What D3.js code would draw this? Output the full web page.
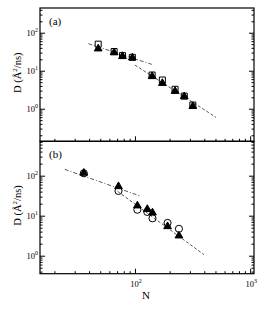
<!DOCTYPE html>
<html><head><meta charset="utf-8">
<script src="https://cdn.jsdelivr.net/npm/d3@7"></script>
<style>body{margin:0;background:#fff}svg{display:block}text{font-family:"Liberation Serif","DejaVu Serif",serif;fill:#000}</style>
</head><body><svg id="c" width="268" height="315"></svg>
<script>
// Panel (a)
const nA = [48, 66, 78, 95, 141, 173, 223, 268, 318];
const dSquareA = [50, 32, 25, 22.5, 7.7, 5.7, 3.25, 2.15, 1.25];
const dTriA = [38, 30, 24, 22, 7.1, 4.7, 2.9, 2.1, 1.16];
const fitA1N = [39.5, 140], fitA1D = [51.4, 14.7];
const fitA2N = [100, 506], fitA2D = [14.1, 0.594];
// Panel (b)
const nB = [36, 72, 105, 128, 142, 192, 241];
const dCircleB = [115, 41.5, 14.1, 12.4, 8.6, 6.6, 4.7];
const dTriB = [117, 54, 17.8, 14.5, 11.9, 5.4, 3.16];
const fitB1N = [24.6, 113], fitB1D = [144, 30.5];
const fitB2N = [70.7, 398], fitB2D = [40.7, 1.06];
// ticks
const xMajor = [100, 1000];
const xMinor = [20,30,40,50,60,70,80,90,200,300,400,500,600,700,800,900];
const yMajor = [1, 10, 100];
const yMinorA = [0.2,0.3,0.4,0.5,0.6,0.7,0.8,0.9,2,3,4,5,6,7,8,9,20,30,40,50,60,70,80,90,200,300,400];
const yMinorB = [0.4,0.5,0.6,0.7,0.8,0.9,2,3,4,5,6,7,8,9,20,30,40,50,60,70,80,90,200,300,400,500,600,700];

const svg = d3.select("#c");
const L = 40, R = 254;
const x = d3.scaleLog().domain([15, 1080]).range([L, R]);
const ya = d3.scaleLog().domain([0.139, 447]).range([141.3, 8]);
const yb = d3.scaleLog().domain([0.355, 724]).range([273.7, 141.3]);

function sup(sel, base, exp){
  sel.append("tspan").text(base);
  sel.append("tspan").attr("dy", -4).attr("font-size", 6).text(exp);
}

function panel(y, top, bottom, yMinor, label, showXLabels){
  const g = svg.append("g");
  // frame
  g.append("rect").attr("x", L).attr("y", top).attr("width", R-L).attr("height", bottom-top)
    .attr("fill","none").attr("stroke","#000").attr("stroke-width",1.2);
  // y axes left/right
  const mk = (ax, vals, size, tx) => {
    const a = g.append("g").attr("transform", tx)
      .call(ax.tickValues(vals).tickSizeInner(size).tickSizeOuter(0).tickFormat(""));
    a.select(".domain").remove();
    a.selectAll("line").attr("stroke","#000").attr("stroke-width",1);
  };
  mk(d3.axisLeft(y), yMajor, -5, `translate(${L},0)`);
  mk(d3.axisLeft(y), yMinor, -2.5, `translate(${L},0)`);
  mk(d3.axisRight(y), yMajor, -5, `translate(${R},0)`);
  mk(d3.axisRight(y), yMinor, -2.5, `translate(${R},0)`);
  mk(d3.axisBottom(x), xMajor.filter(v=>v<1080), -5, `translate(0,${bottom})`);
  mk(d3.axisBottom(x), xMinor, -2.5, `translate(0,${bottom})`);
  // y labels
  yMajor.forEach(v => {
    const t = g.append("text").attr("x", L-2).attr("y", y(v)+3).attr("text-anchor","end").attr("font-size",8.5);
    sup(t, "10", String(Math.round(Math.log10(v))));
  });
  if (showXLabels){
    xMajor.forEach(v => {
      const t = g.append("text").attr("x", x(v)+1).attr("y", bottom+13).attr("text-anchor","middle").attr("font-size",8.5);
      sup(t, "10", String(Math.round(Math.log10(v))));
    });
  }
  g.append("text").attr("x", 49).attr("y", top+17).attr("font-size", 11).text(label);
  // y title
  const cy = (top+bottom)/2 - 2;
  const yt = g.append("text").attr("transform", `translate(21,${cy}) rotate(-90)`)
    .attr("text-anchor","middle").attr("font-size",10.5);
  yt.append("tspan").text("D (Å");
  yt.append("tspan").attr("dy",-4).attr("font-size",7).text("2");
  yt.append("tspan").attr("dy",4).text("/ns)");
  return g;
}

const gA = panel(ya, 8, 141.3, yMinorA, "(a)", false);
const gB = panel(yb, 141.3, 273.7, yMinorB, "(b)", true);

function fit(g, y, ns, ds, dash){
  const line = d3.line().x(d=>x(d[0])).y(d=>y(d[1]));
  g.append("path").attr("d", line(ns.map((n,i)=>[n, ds[i]])))
    .attr("fill","none").attr("stroke","#444").attr("stroke-width",0.9).attr("stroke-dasharray", dash);
}
fit(gA, ya, fitA1N, fitA1D, "4,2,1,2");
fit(gA, ya, fitA2N, fitA2D, "3,2");
fit(gB, yb, fitB1N, fitB1D, "4,2,1,2");
fit(gB, yb, fitB2N, fitB2D, "3,2");

function markers(g, y, ns, ds, type, size, fill){
  const sym = d3.symbol().type(type).size(size);
  g.selectAll(null).data(ns.map((n,i)=>[n, ds[i]])).enter().append("path")
    .attr("d", sym).attr("transform", d=>`translate(${x(d[0])},${y(d[1])})`)
    .attr("fill", fill).attr("stroke","#000").attr("stroke-width",1);
}
markers(gA, ya, nA, dSquareA, d3.symbolSquare, 36, "none");
markers(gA, ya, nA, dTriA, d3.symbolTriangle, 26, "#000");
markers(gB, yb, nB, dCircleB, d3.symbolCircle, 40, "none");
markers(gB, yb, nB, dTriB, d3.symbolTriangle, 26, "#000");

svg.append("text").attr("x", 146).attr("y", 299).attr("text-anchor","middle").attr("font-size",11).text("N");
</script></body></html>
